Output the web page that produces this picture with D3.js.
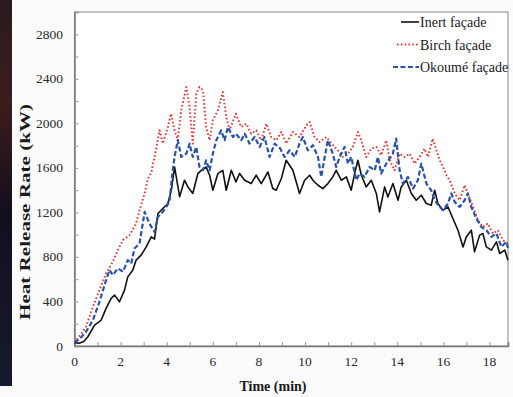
<!DOCTYPE html>
<html>
<head>
<meta charset="utf-8">
<script src="https://cdn.jsdelivr.net/npm/d3@7"></script>
<style>
  html, body { margin: 0; padding: 0; background: #fbfbfb; }
  svg { display: block; font-family: "Liberation Serif", "Times New Roman", serif; }
</style>
</head>
<body>
<div id="graph"></div>
<script>
// Heat release rate curves (kW) against time (min)
const inertTime = [0, 0.2, 0.4, 0.58, 0.87, 1.16, 1.37, 1.59, 1.74, 1.95, 2.17, 2.31, 2.53, 2.67, 2.89, 3.11, 3.33, 3.47, 3.62, 3.83, 4.05, 4.2, 4.34, 4.56, 4.77, 4.92, 5.13, 5.35, 5.5, 5.71, 5.86, 6.0, 6.22, 6.43, 6.58, 6.8, 7.0, 7.16, 7.38, 7.66, 7.88, 8.1, 8.39, 8.6, 8.75, 8.97, 9.18, 9.47, 9.76, 9.98, 10.2, 10.34, 10.56, 10.77, 10.99, 11.2, 11.35, 11.57, 11.79, 12.0, 12.15, 12.29, 12.44, 12.65, 12.87, 13.09, 13.23, 13.45, 13.59, 13.81, 14.03, 14.17, 14.39, 14.61, 14.82, 15.04, 15.26, 15.47, 15.62, 15.76, 15.98, 16.2, 16.41, 16.63, 16.85, 16.99, 17.21, 17.35, 17.57, 17.71, 17.86, 18.08, 18.3, 18.44, 18.66, 18.8];
const inertHRR = [30, 25, 40, 83, 188, 233, 338, 428, 457, 397, 502, 621, 682, 771, 816, 890, 980, 960, 1190, 1235, 1280, 1400, 1608, 1340, 1489, 1429, 1370, 1549, 1578, 1608, 1534, 1399, 1549, 1578, 1399, 1578, 1474, 1550, 1489, 1459, 1534, 1459, 1563, 1414, 1399, 1504, 1668, 1578, 1370, 1489, 1534, 1489, 1444, 1414, 1459, 1519, 1578, 1489, 1519, 1399, 1549, 1668, 1534, 1429, 1489, 1370, 1204, 1429, 1339, 1459, 1309, 1429, 1489, 1370, 1309, 1354, 1280, 1264, 1399, 1280, 1220, 1249, 1145, 1040, 890, 980, 1040, 846, 996, 1010, 890, 861, 935, 831, 861, 770];

const birchTime = [0, 0.1, 0.3, 0.5, 0.8, 1.08, 1.37, 1.66, 1.88, 2.1, 2.39, 2.67, 2.82, 3.04, 3.18, 3.33, 3.47, 3.69, 3.83, 4.05, 4.19, 4.34, 4.48, 4.63, 4.85, 4.99, 5.13, 5.28, 5.42, 5.57, 5.71, 5.86, 6.0, 6.22, 6.43, 6.58, 6.72, 7.0, 7.23, 7.45, 7.66, 7.88, 8.1, 8.32, 8.53, 8.75, 8.97, 9.18, 9.47, 9.76, 10.05, 10.2, 10.41, 10.63, 10.92, 11.2, 11.42, 11.64, 11.86, 12.07, 12.29, 12.44, 12.65, 12.87, 13.09, 13.3, 13.52, 13.67, 13.88, 14.1, 14.32, 14.53, 14.75, 14.97, 15.18, 15.33, 15.54, 15.69, 15.84, 15.98, 16.13, 16.27, 16.49, 16.7, 16.92, 17.06, 17.28, 17.5, 17.71, 17.93, 18.15, 18.36, 18.58, 18.8];
const birchHRR = [30, 60, 110, 173, 352, 502, 652, 756, 861, 951, 996, 1100, 1220, 1370, 1500, 1560, 1698, 1937, 1818, 1967, 2087, 1937, 1848, 2117, 2326, 2146, 1818, 2266, 2326, 2296, 1967, 1848, 2027, 2117, 2281, 2057, 1937, 2087, 1967, 1997, 1907, 1937, 1848, 1997, 1877, 1848, 1922, 1818, 1922, 1877, 1982, 2012, 1877, 1832, 1877, 1803, 1758, 1698, 1728, 1788, 1922, 1848, 1698, 1773, 1788, 1713, 1848, 1668, 1578, 1728, 1698, 1728, 1638, 1698, 1773, 1698, 1863, 1758, 1668, 1608, 1534, 1489, 1370, 1309, 1444, 1370, 1249, 1130, 1070, 1100, 1010, 1040, 951, 921];

const okoumeTime = [0, 0.1, 0.3, 0.5, 0.8, 1.08, 1.37, 1.52, 1.66, 1.88, 2.1, 2.31, 2.46, 2.6, 2.82, 2.96, 3.04, 3.25, 3.47, 3.62, 3.83, 3.98, 4.12, 4.25, 4.34, 4.48, 4.63, 4.85, 4.99, 5.13, 5.28, 5.42, 5.57, 5.71, 5.86, 6.0, 6.15, 6.36, 6.51, 6.65, 6.87, 7.0, 7.23, 7.38, 7.59, 7.81, 8.03, 8.24, 8.46, 8.68, 8.9, 9.11, 9.33, 9.55, 9.76, 9.9, 10.12, 10.34, 10.56, 10.7, 10.85, 10.99, 11.2, 11.35, 11.5, 11.71, 11.86, 12.0, 12.22, 12.36, 12.58, 12.8, 13.02, 13.16, 13.3, 13.52, 13.81, 13.95, 14.1, 14.24, 14.46, 14.68, 14.89, 15.04, 15.26, 15.47, 15.62, 15.84, 15.98, 16.2, 16.34, 16.49, 16.7, 16.92, 17.06, 17.21, 17.43, 17.64, 17.86, 18.08, 18.3, 18.51, 18.73, 18.8];
const okoumeHRR = [30, 45, 80, 128, 233, 397, 592, 682, 637, 697, 667, 771, 741, 876, 921, 1100, 1205, 1100, 1025, 1160, 1205, 1249, 1300, 1560, 1700, 1848, 1698, 1728, 1818, 1698, 1788, 1608, 1578, 1668, 1578, 1728, 1848, 1937, 1848, 1967, 1877, 1907, 1848, 1907, 1818, 1877, 1788, 1877, 1698, 1818, 1780, 1698, 1758, 1698, 1818, 1877, 1758, 1803, 1698, 1519, 1698, 1848, 1728, 1608, 1698, 1788, 1638, 1698, 1489, 1549, 1519, 1608, 1578, 1698, 1549, 1638, 1728, 1863, 1578, 1459, 1519, 1414, 1489, 1638, 1459, 1399, 1309, 1249, 1220, 1280, 1370, 1294, 1249, 1309, 1370, 1249, 1145, 1070, 1040, 980, 1010, 890, 935, 880];

const seriesNames = ["Inert façade", "Birch façade", "Okoumé façade"];
const xTicks = [0, 2, 4, 6, 8, 10, 12, 14, 16, 18];
const yTicks = [0, 400, 800, 1200, 1600, 2000, 2400, 2800];

const width = 513;
const height = 397;
const marginTop = 12;
const marginRight = 5;
const marginBottom = 51;
const marginLeft = 74.5;

const styles = [
  { color: "#111111", width: 1.6, dash: null },
  { color: "#dd3b3b", width: 2, dash: "1.6,2.2" },
  { color: "#2a52a6", width: 2.2, dash: "5,2.5" }
];

const series = [
  inertTime.map((t, i) => [t, inertHRR[i]]),
  birchTime.map((t, i) => [t, birchHRR[i]]),
  okoumeTime.map((t, i) => [t, okoumeHRR[i]])
];

const x = d3.scaleLinear().domain([0, 18.8]).range([marginLeft, width - marginRight]);
const y = d3.scaleLinear().domain([0, 3000]).range([height - marginBottom, marginTop]);

const svg = d3.select("#graph").append("svg")
    .attr("width", width)
    .attr("height", height)
    .attr("viewBox", [0, 0, width, height]);

// dark strip down the left edge of the scan
const grad = svg.append("defs").append("linearGradient")
    .attr("id", "strip").attr("x1", 0).attr("x2", 0).attr("y1", 0).attr("y2", 1);
grad.append("stop").attr("offset", "0%").attr("stop-color", "#2a1b1e");
grad.append("stop").attr("offset", "28%").attr("stop-color", "#3b1c1c");
grad.append("stop").attr("offset", "55%").attr("stop-color", "#120f1c");
grad.append("stop").attr("offset", "100%").attr("stop-color", "#161a2e");
svg.append("rect").attr("x", 0).attr("y", 0).attr("width", 12).attr("height", 386)
    .attr("fill", "url(#strip)");

// plot frame
svg.append("rect")
    .attr("x", marginLeft).attr("y", marginTop)
    .attr("width", width - marginRight - marginLeft)
    .attr("height", height - marginBottom - marginTop)
    .attr("fill", "#ffffff")
    .attr("stroke", "#9a9a9a")
    .attr("stroke-width", 1.2);

// bottom axis
svg.append("g")
    .attr("transform", `translate(0,${height - marginBottom})`)
    .call(d3.axisBottom(x).tickValues(d3.range(0, 19, 1)).tickSize(-4).tickFormat(""))
    .call(g => g.select(".domain").attr("stroke", "#777").attr("stroke-width", 1.5))
    .call(g => g.selectAll(".tick line").attr("stroke", "#999"));
svg.append("g")
    .selectAll("text")
    .data(xTicks)
    .join("text")
    .attr("x", d => x(d))
    .attr("y", 366)
    .attr("text-anchor", "middle")
    .attr("font-size", 13.5)
    .attr("fill", "#2a2a2a")
    .text(d => d);

// left axis
svg.append("g")
    .attr("transform", `translate(${marginLeft},0)`)
    .call(d3.axisLeft(y).tickValues(d3.range(0, 3001, 200)).tickSize(-4).tickFormat(""))
    .call(g => g.select(".domain").attr("stroke", "#777").attr("stroke-width", 1.5))
    .call(g => g.selectAll(".tick line").attr("stroke", "#999"));
svg.append("g")
    .selectAll("text")
    .data(yTicks)
    .join("text")
    .attr("x", 63)
    .attr("y", d => y(d) + 4.5)
    .attr("text-anchor", "end")
    .attr("font-size", 13.5)
    .attr("fill", "#2a2a2a")
    .text(d => d);

// axis titles
svg.append("text")
    .attr("x", 273).attr("y", 391)
    .attr("text-anchor", "middle")
    .attr("font-size", 14)
    .attr("font-weight", "bold")
    .attr("fill", "#1a1a1a")
    .text("Time (min)");

svg.append("text")
    .attr("transform", "translate(30,212) rotate(-90)")
    .attr("text-anchor", "middle")
    .attr("font-size", 14)
    .attr("font-weight", "bold")
    .attr("fill", "#1a1a1a")
    .attr("textLength", 216)
    .attr("lengthAdjust", "spacingAndGlyphs")
    .text("Heat Release Rate (kW)");

// curves
const line = d3.line().x(d => x(d[0])).y(d => y(d[1])).curve(d3.curveLinear);
svg.append("g")
    .attr("fill", "none")
    .attr("stroke-linejoin", "round")
    .selectAll("path")
    .data(series)
    .join("path")
    .attr("stroke", (d, i) => styles[i].color)
    .attr("stroke-width", (d, i) => styles[i].width)
    .attr("stroke-dasharray", (d, i) => styles[i].dash)
    .attr("d", line);

// legend
const legend = svg.append("g")
    .selectAll("g")
    .data(seriesNames)
    .join("g")
    .attr("transform", (d, i) => `translate(0,${22 + i * 22.5})`);
legend.append("line")
    .attr("x1", (d, i) => [401, 397, 393][i])
    .attr("x2", 419)
    .attr("stroke", (d, i) => styles[i].color)
    .attr("stroke-width", (d, i) => styles[i].width)
    .attr("stroke-dasharray", (d, i) => styles[i].dash);
legend.append("text")
    .attr("x", 420)
    .attr("y", 5)
    .attr("font-size", 14)
    .attr("fill", "#1a1a1a")
    .text(d => d);
</script>
</body>
</html>
